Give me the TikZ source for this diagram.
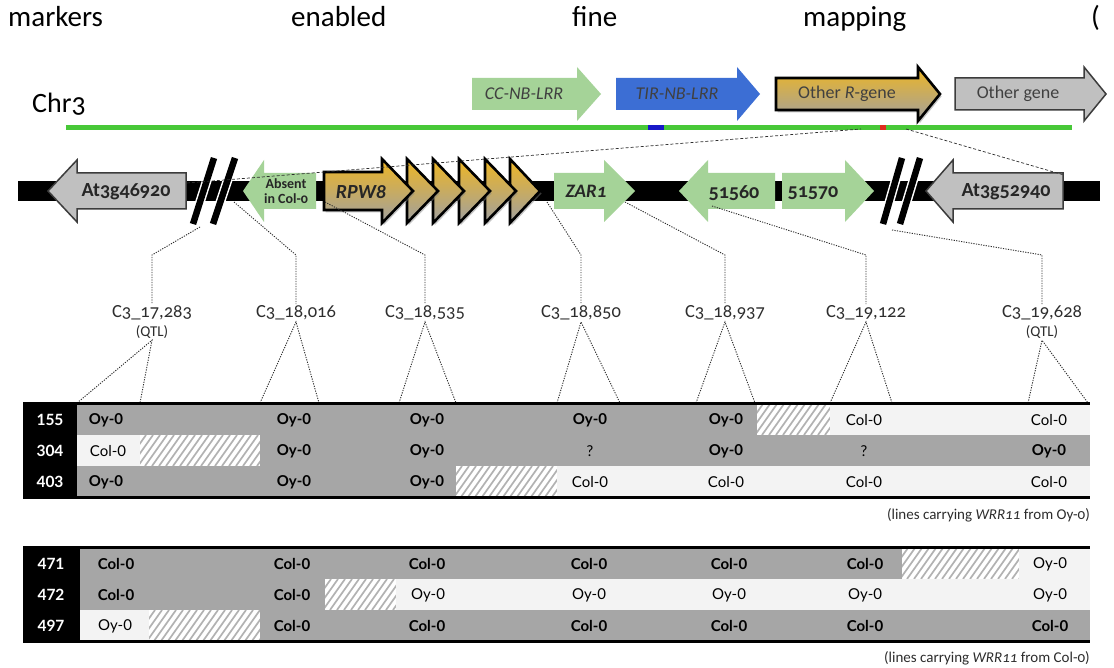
\documentclass[tikz,border=0pt]{standalone}
\usepackage{fontspec}
\setmainfont{Carlito}[Numbers=OldStyle]
\newfontfamily\cellfont{Lato}
\usetikzlibrary{shadows}

\definecolor{chrgreen}{RGB}{72,200,56}
\definecolor{leafgreen}{RGB}{165,211,152}
\definecolor{tirblue}{RGB}{60,110,212}
\definecolor{markblue}{RGB}{24,24,200}
\definecolor{markred}{RGB}{222,44,30}
\definecolor{rgold}{RGB}{238,182,36}
\definecolor{rgray}{RGB}{160,160,160}
\definecolor{genegray}{RGB}{192,192,192}
\definecolor{geneedge}{RGB}{60,60,60}
\definecolor{cellgray}{RGB}{166,166,166}
\definecolor{cellwhite}{RGB}{243,243,243}
\definecolor{hatchgray}{RGB}{178,178,178}
\definecolor{inkgray}{RGB}{45,45,45}

\tikzset{
  leaf/.style={fill=leafgreen},
  other/.style={fill=genegray, draw=geneedge, line width=1.5},
  rgene/.style={top color=rgold, bottom color=rgray, draw=black, line width=2.6,
    drop shadow={shadow xshift=1.5pt, shadow yshift=-2.5pt, opacity=0.45}},
  dotline/.style={draw=inkgray, line width=0.9, dash pattern=on 1.2pt off 1.3pt},
  zoomline/.style={draw=inkgray, line width=0.7, dash pattern=on 3pt off 2pt},
  genelbl/.style={font=\bfseries\fontsize{20}{20}\selectfont, text=black!85, inner sep=0pt},
  leglbl/.style={font=\fontsize{18}{18}\selectfont, text=black!75, inner sep=0pt},
  mklbl/.style={font=\fontsize{18.5}{18.5}\selectfont, text=inkgray, inner sep=1.5pt},
  qtl/.style={font=\fontsize{15}{15}\selectfont, text=inkgray, inner sep=1.5pt},
  rowno/.style={font=\cellfont\bfseries\fontsize{15.5}{15.5}\selectfont, text=white},
  celltxt/.style={font=\cellfont\fontsize{15}{15}\selectfont, text=black},
  cellbold/.style={font=\cellfont\bfseries\fontsize{15}{15}\selectfont, text=black},
  caption/.style={font=\fontsize{15}{15}\selectfont, text=inkgray, anchor=east, inner sep=0pt},
  rule/.style={line width=3, draw=black},
}

% right-pointing gene arrow: [style] body start, head base, tip, centre y, half body, half head
\newcommand\genR[7][]{\path[#1] (#2,{#5-#6}) -- (#3,{#5-#6}) -- (#3,{#5-#7}) -- (#4,#5)
  -- (#3,{#5+#7}) -- (#3,{#5+#6}) -- (#2,{#5+#6}) -- cycle;}
% left-pointing gene arrow: [style] tip, head base, body end, centre y, half body, half head
\newcommand\genL[7][]{\path[#1] (#2,#5) -- (#3,{#5-#7}) -- (#3,{#5-#6}) -- (#4,{#5-#6})
  -- (#4,{#5+#6}) -- (#3,{#5+#6}) -- (#3,{#5+#7}) -- cycle;}
% bare arrow head: [style] base, tip, centre y, half height
\newcommand\genH[5][]{\path[#1] (#2,{#4-#5}) -- (#3,#4) -- (#2,{#4+#5}) -- cycle;}
% hatched (recombination) cell
\newcommand\hatchbox[4]{%
  \fill[white] (#1,#2) rectangle (#3,#4);
  \begin{scope}
    \clip (#1,#2) rectangle (#3,#4);
    \foreach \k in {-30,-23,...,140}
      \draw[hatchgray, line width=1.7] ({#1+\k},#4) -- ({#1+\k+22},#2);
  \end{scope}}

\begin{document}
\begin{tikzpicture}[x=1pt,y=-1pt]
\useasboundingbox (0,0) rectangle (1114,668);
\fill[white] (0,0) rectangle (1114,668);

% running text line
\begin{scope}[every node/.style={font=\fontsize{29}{29}\selectfont, anchor=base west, inner sep=0pt}]
  \node (w1) at (8,27) {markers};
  \node (w2) at (291,27) {enabled};
  \node (w3) at (572,27) {fine};
  \node (w4) at (803,27) {mapping};
  \node (w5) at (1091,27) {(};
\end{scope}

% legend
\genR[leaf]{472}{577}{601}{94}{16}{27}
\node[leglbl] (lg1) at (524,94) {\itshape CC-NB-LRR};
\genR[fill=tirblue]{616}{737}{760}{94}{16}{27}
\node[leglbl] (lg2) at (677,94) {\itshape TIR-NB-LRR};
\genR[rgene]{776}{918}{940}{94}{16}{27}
\node[leglbl] (lg3) at (847,94) {Other \textit{R}-gene};
\genR[other]{955}{1084}{1106}{94}{16}{27}
\node[leglbl] (lg4) at (1018,94) {Other gene};

% chromosome 3
\node[font=\fontsize{28}{28}\selectfont, anchor=base west, inner sep=0pt] (chr) at (32,113) {Chr3};
\draw[chrgreen, line width=5] (66,128) -- (1072,128);
\draw[markblue, line width=5] (648,128) -- (664,128);
\draw[markred, line width=5] (880,128) -- (886,128);
\coordinate (zl) at (861,129);
\coordinate (zr) at (906,129);

% gene row
\fill[black] (18,181) rectangle (1100,201);
\genL[other]{48}{77}{186}{191}{18}{31}
\node[genelbl] (g46920) at (126,192) {At3g46920};
\foreach \xa/\xb in {214/193, 235/213, 902/883, 920/900}{
  \draw[white, line width=9.5] (\xa,158) -- (\xb,224);
  \draw[black, line width=6.5] (\xa,158) -- (\xb,224);
}
\genL[leaf]{243}{264}{316}{191}{18}{31}
\node[genelbl, font=\bfseries\fontsize{14}{15}\selectfont, align=center] (absent) at (286,191) {Absent\\in Col-0};
% RPW8 cluster, back to front
\foreach \b/\t in {510/540, 485/516, 459/490, 433/464, 407/438}{
  \genH[rgene]{\b}{\t}{191}{32}
}
\genR[rgene]{324}{382}{413}{191}{19}{32}
\node[genelbl, font=\bfseries\itshape\fontsize{20}{20}\selectfont] (rpw8) at (361,192) {RPW8};
\genR[leaf]{554}{604}{635}{191}{18}{31}
\node[genelbl, font=\bfseries\itshape\fontsize{19}{19}\selectfont] (zar1) at (586,191) {ZAR1};
\genL[leaf]{679}{708}{775}{191}{18}{31}
\node[genelbl] (g51560) at (734,193) {51560};
\genR[leaf]{782}{845}{874}{191}{18}{31}
\node[genelbl] (g51570) at (813,193) {51570};
\genL[other]{926}{953}{1063}{191}{18}{31}
\node[genelbl] (g52940) at (1006,192) {At3g52940};

% zoom-in guides from the chromosome
\coordinate (zla) at (187,183);
\coordinate (zra) at (1064,175);
\draw[zoomline] (zla) -- (zl);
\draw[zoomline] (zr) -- (zra);

% markers
\coordinate (g1) at (200,227);
\coordinate (g2) at (234,202);
\coordinate (g3) at (325,202);
\coordinate (g4) at (547,202);
\coordinate (g5) at (625,202);
\coordinate (g6) at (712,206);
\coordinate (g7) at (892,230);
\foreach \i/\x/\lab in {1/152/C3\_17{,}283, 2/296/C3\_18{,}016, 3/425/C3\_18{,}535,
                        4/581/C3\_18{,}850, 5/725/C3\_18{,}937, 6/866/C3\_19{,}122,
                        7/1042/C3\_19{,}628}{
  \coordinate (b\i) at (\x,255);
  \node[mklbl] (m\i) at (\x,313) {\lab};
  \draw[dotline] (g\i) -- (b\i) -- (m\i.north);
}
\node[qtl] (q1) at (152,332) {(QTL)};
\node[qtl] (q7) at (1042,332) {(QTL)};

% lower guides to the genotype table
\foreach \i/\l/\r in {1/77/140, 2/260/319, 3/399/456, 4/557/620, 5/696/755, 6/830/892, 7/1028/1088}{
  \coordinate (tl\i) at (\l,403);
  \coordinate (tr\i) at (\r,403);
}
\draw[dotline] (tl1) -- (q1.south) -- (tr1);
\draw[dotline] (tl7) -- (q7.south) -- (tr7);
\foreach \i in {2,...,6}{
  \draw[dotline] (tl\i) -- (m\i.south) -- (tr\i);
}

% genotype table, lines with WRR11 from Oy-0
\fill[black] (23,403) rectangle (77,497);
\fill[cellgray] (77,404) rectangle (757,435);
\hatchbox{757}{404}{830}{435}
\fill[cellwhite] (830,404) rectangle (1090,435);
\fill[cellwhite] (77,435) rectangle (140,466);
\hatchbox{140}{435}{260}{466}
\fill[cellgray] (260,435) rectangle (1090,466);
\fill[cellgray] (77,466) rectangle (456,497);
\hatchbox{456}{466}{557}{497}
\fill[cellwhite] (557,466) rectangle (1090,497);
\draw[rule] (23,403) -- (1090,403);
\draw[rule] (23,497) -- (1090,497);
\node[rowno] (n155) at (50,420) {155};
\node[rowno] (n304) at (50,451) {304};
\node[rowno] (n403) at (50,482) {403};
\foreach \x/\s/\t [count=\c] in {106/cellbold/Oy-0, 294/cellbold/Oy-0, 427/cellbold/Oy-0,
    590/cellbold/Oy-0, 726/cellbold/Oy-0, 864/celltxt/Col-0, 1049/celltxt/Col-0}
  \node[\s] (a\c) at (\x,420) {\t};
\foreach \x/\s/\t [count=\c] in {108/celltxt/Col-0, 294/cellbold/Oy-0, 427/cellbold/Oy-0,
    590/celltxt/?, 726/cellbold/Oy-0, 864/celltxt/?, 1049/cellbold/Oy-0}
  \node[\s] (b\c) at (\x,451) {\t};
\foreach \x/\s/\t [count=\c] in {106/cellbold/Oy-0, 294/cellbold/Oy-0, 427/cellbold/Oy-0,
    590/celltxt/Col-0, 726/celltxt/Col-0, 864/celltxt/Col-0, 1049/celltxt/Col-0}
  \node[\s] (c\c) at (\x,482) {\t};
\node[caption] (cap1) at (1090,515) {(lines carrying \textit{WRR11} from Oy-0)};

% genotype table, lines with WRR11 from Col-0
\fill[black] (23,547) rectangle (80,641);
\fill[cellgray] (80,548) rectangle (902,579);
\hatchbox{902}{548}{1019}{579}
\fill[cellwhite] (1019,548) rectangle (1090,579);
\fill[cellgray] (80,579) rectangle (325,610);
\hatchbox{325}{579}{396}{610}
\fill[cellwhite] (396,579) rectangle (1090,610);
\fill[cellwhite] (80,610) rectangle (149,641);
\hatchbox{149}{610}{260}{641}
\fill[cellgray] (260,610) rectangle (1090,641);
\draw[rule] (23,547) -- (1090,547);
\draw[rule] (23,641) -- (1090,641);
\node[rowno] (n471) at (51,564) {471};
\node[rowno] (n472) at (51,595) {472};
\node[rowno] (n497) at (51,626) {497};
\foreach \x/\s/\t [count=\c] in {116/cellbold/Col-0, 292/cellbold/Col-0, 427/cellbold/Col-0,
    589/cellbold/Col-0, 729/cellbold/Col-0, 865/cellbold/Col-0, 1050/celltxt/Oy-0}
  \node[\s] (d\c) at (\x,564) {\t};
\foreach \x/\s/\t [count=\c] in {116/cellbold/Col-0, 292/cellbold/Col-0, 428/celltxt/Oy-0,
    589/celltxt/Oy-0, 729/celltxt/Oy-0, 865/celltxt/Oy-0, 1050/celltxt/Oy-0}
  \node[\s] (e\c) at (\x,595) {\t};
\foreach \x/\s/\t [count=\c] in {115/celltxt/Oy-0, 292/cellbold/Col-0, 427/cellbold/Col-0,
    589/cellbold/Col-0, 729/cellbold/Col-0, 865/cellbold/Col-0, 1050/cellbold/Col-0}
  \node[\s] (f\c) at (\x,626) {\t};
\node[caption] (cap2) at (1090,658) {(lines carrying \textit{WRR11} from Col-0)};
\end{tikzpicture}
\end{document}
